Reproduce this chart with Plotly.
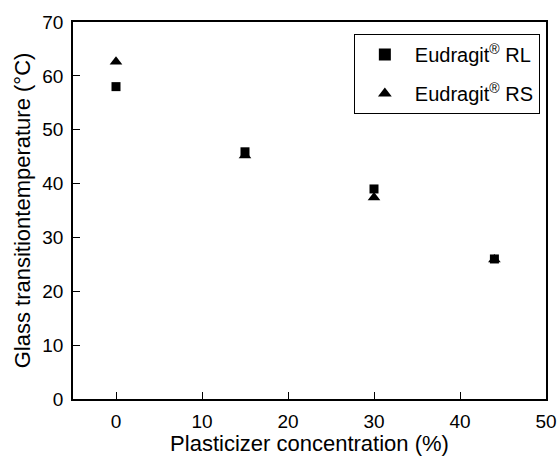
import plotly.graph_objects as go

conc = [0, 15, 30, 44]
rl = [58.0, 45.9, 39.0, 26.0]
rs = [62.6, 45.2, 37.4, 25.9]

x_ticks = [0, 10, 20, 30, 40, 50]
y_ticks = [0, 10, 20, 30, 40, 50, 60, 70]

fig = go.Figure()
fig.add_trace(go.Scatter(x=conc, y=rl, mode="markers", name="Eudragit<sup>®</sup> RL", legendgroup="a",
                         marker=dict(symbol="square", size=9, color="black")))
fig.add_trace(go.Scatter(x=conc, y=rs, mode="markers", name="Eudragit<sup>®</sup> RS", legendgroup="b",
                         marker=dict(symbol="triangle-up", size=11, color="black")))

font = "Liberation Sans, Arial, sans-serif"
axis_common = dict(showgrid=False, zeroline=False, showline=True, linecolor="black", linewidth=1.5,
                   mirror=True, ticks="inside", ticklen=7, tickwidth=1.3, tickcolor="black",
                   ticklabelstandoff=4, automargin=False,
                   tickfont=dict(family=font, size=19, color="black"))
fig.update_xaxes(range=[-5, 50], tickvals=x_ticks,
                 title=dict(text="Plasticizer concentration (%)", font=dict(family=font, size=22, color="black"), standoff=6),
                 **axis_common)
fig.update_yaxes(range=[0, 70], tickvals=y_ticks,
                 title=dict(text="Glass transitiontemperature (°C)", font=dict(family=font, size=22, color="black"), standoff=6),
                 **axis_common)
fig.update_layout(width=560, height=456, margin=dict(l=73, r=14, t=22, b=57),
                  plot_bgcolor="white", paper_bgcolor="white",
                  legend=dict(x=0.987, y=0.968, xanchor="right", yanchor="top",
                              bordercolor="black", borderwidth=1, bgcolor="white",
                              font=dict(family=font, size=20, color="black"),
                              traceorder="grouped", tracegroupgap=10,
                              itemsizing="constant", itemwidth=50))
fig.write_html("out.html")
